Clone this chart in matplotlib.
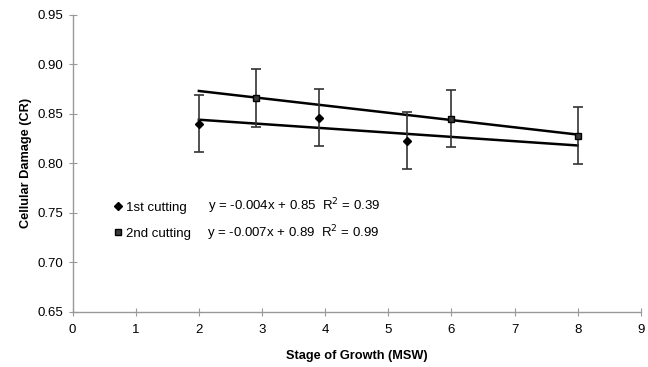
"""Cellular damage vs. stage of growth, two cuttings with linear trend lines."""
import matplotlib
matplotlib.use("Agg")
import matplotlib.pyplot as plt
from matplotlib.lines import Line2D

# 1st cutting (diamonds)
x1 = [2.0, 3.9, 5.3]
y1 = [0.840, 0.846, 0.823]
e1 = [0.029, 0.029, 0.029]
trend1_x = [2, 8]
trend1_y = [0.844, 0.818]
eq1 = "y = -0.004x + 0.85  R$^2$ = 0.39"

# 2nd cutting (squares)
x2 = [2.9, 6.0, 8.0]
y2 = [0.866, 0.845, 0.828]
e2 = [0.029, 0.029, 0.029]
trend2_x = [2, 8]
trend2_y = [0.873, 0.829]
eq2 = "y = -0.007x + 0.89  R$^2$ = 0.99"

series_names = ["1st cutting", "2nd cutting"]
xticks = list(range(0, 10))
yticks = [0.65, 0.70, 0.75, 0.80, 0.85, 0.90, 0.95]

plt.rcParams["font.family"] = ["Liberation Sans", "DejaVu Sans"]

fig = plt.figure(figsize=(6.48, 3.67), dpi=100)
ax = fig.add_axes([0.112, 0.150, 0.877, 0.810])

ax.plot(trend1_x, trend1_y, color="black", lw=1.8, zorder=2)
ax.plot(trend2_x, trend2_y, color="black", lw=1.8, zorder=2)

ax.errorbar(x1, y1, yerr=e1, fmt="D", ms=4, color="black", mfc="black",
            ecolor="#333333", elinewidth=1.2, capsize=3.5, capthick=1.2, zorder=3)
ax.errorbar(x2, y2, yerr=e2, fmt="s", ms=5, color="black", mfc="#3a3a3a",
            mec="black", ecolor="#333333", elinewidth=1.2, capsize=3.5,
            capthick=1.2, zorder=3)

ax.set_xlim(0, 9)
ax.set_ylim(0.65, 0.95)
ax.set_xticks(xticks)
ax.set_yticks(yticks)
ax.set_yticklabels([f"{v:.2f}" for v in yticks])

for side in ("top", "right"):
    ax.spines[side].set_visible(False)
for side in ("left", "bottom"):
    ax.spines[side].set_color("#999999")
    ax.spines[side].set_linewidth(1.0)
ax.tick_params(axis="both", direction="inout", length=6, width=0.8,
               color="#999999", labelsize=9.5, labelcolor="black")
ax.tick_params(axis="x", pad=6)
ax.tick_params(axis="y", pad=4)

ax.set_xlabel("Stage of Growth (MSW)", fontsize=9.2, fontweight="bold", labelpad=10)
ax.set_ylabel("Cellular Damage (CR)", fontsize=9.2, fontweight="bold", labelpad=4)

handles = [
    Line2D([], [], marker="D", ms=4, color="black", ls="none"),
    Line2D([], [], marker="s", ms=5, mfc="#3a3a3a", mec="black", ls="none"),
]
ax.legend(handles, series_names, loc="upper left", bbox_to_anchor=(0.059, 0.39),
          frameon=False, fontsize=9.5, handletextpad=0.1, handlelength=1.0,
          labelspacing=1.05, borderaxespad=0)

fig.text(0.321, 1 - 206 / 367, eq1, fontsize=9.5, va="center")
fig.text(0.319, 1 - 233 / 367, eq2, fontsize=9.5, va="center")

fig.savefig("out.png", dpi=100)
